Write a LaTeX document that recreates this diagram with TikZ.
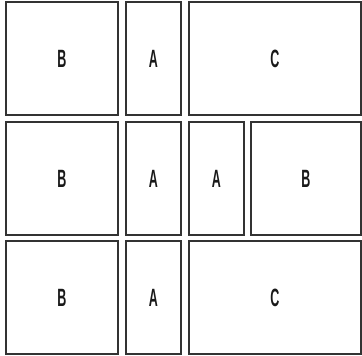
\documentclass[tikz,border=0pt]{standalone}
\usepackage{fontspec}
\setmainfont{Liberation Sans}[FakeStretch=0.5]
\begin{document}
\begin{tikzpicture}[x=1pt,y=-1pt,
  panel/.style={draw=black!80, line width=1.4pt, inner sep=0pt, font=\fontsize{25}{25}\selectfont\bfseries, text=black!90}]
\useasboundingbox (0,0) rectangle (362,356);
% row 1
\node[panel, minimum width=112pt, minimum height=113pt] (b1) at (62,58.5) {B};
\node[panel, minimum width=55pt, minimum height=113pt] (a1) at (153.5,58.5) {A};
\node[panel, minimum width=172pt, minimum height=113pt] (c1) at (275,58.5) {C};
% row 2
\node[panel, minimum width=112pt, minimum height=113pt] (b2) at (62,178.5) {B};
\node[panel, minimum width=55pt, minimum height=113pt] (a2) at (153.5,178.5) {A};
\node[panel, minimum width=55pt, minimum height=113pt] (a3) at (216.5,178.5) {A};
\node[panel, minimum width=110pt, minimum height=113pt] (b3) at (306,178.5) {B};
% row 3
\node[panel, minimum width=112pt, minimum height=113pt] (b4) at (62,297.5) {B};
\node[panel, minimum width=55pt, minimum height=113pt] (a4) at (153.5,297.5) {A};
\node[panel, minimum width=172pt, minimum height=113pt] (c2) at (275,297.5) {C};
\end{tikzpicture}
\end{document}
